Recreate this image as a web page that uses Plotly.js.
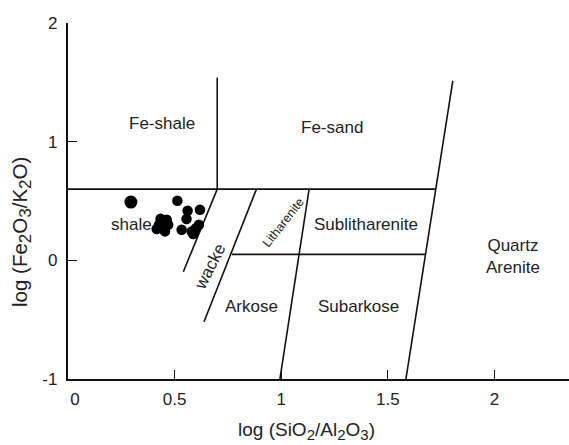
<!DOCTYPE html>
<html>
<head>
<meta charset="utf-8">
<script src="https://cdn.plot.ly/plotly-3.0.1.min.js"></script>
<style>html,body{margin:0;padding:0;background:#fff;}#chart{width:569px;height:445px;}</style>
</head>
<body>
<div id="chart"></div>
<script>
// Sample points: log(SiO2/Al2O3), log(Fe2O3/K2O)
var sampleX = [0.295, 0.513, 0.561, 0.619, 0.556, 0.434, 0.463, 0.427, 0.470, 0.416, 0.455, 0.533, 0.580, 0.614, 0.587, 0.600];
var sampleY = [0.491, 0.502, 0.418, 0.426, 0.348, 0.350, 0.342, 0.300, 0.300, 0.264, 0.244, 0.258, 0.244, 0.300, 0.222, 0.270];
var bigX = [0.295];
var bigY = [0.491];

// Field boundaries (Herron 1988 classification)
var topLineX = [0, 1.725];          var topLineY = [0.6, 0.6];
var feDividerX = [0.70, 0.70];      var feDividerY = [0.6, 1.54];
var quartzLineX = [1.585, 1.805];   var quartzLineY = [-1, 1.513];
var shaleWackeX = [0.70, 0.541];    var shaleWackeY = [0.6, -0.096];
var wackeArkX = [0.884, 0.638];     var wackeArkY = [0.6, -0.517];
var lithSubX = [1.131, 0.994];      var lithSubY = [0.6, -1];
var midLineX = [0.768, 1.677];      var midLineY = [0.05, 0.05];

// Field labels
var labelText = ["Fe-shale", "Fe-sand", "shale", "Sublitharenite", "Arkose", "Subarkose", "Quartz<br>Arenite"];
var labelX = [0.44, 1.238, 0.297, 1.397, 0.863, 1.362, 2.086];
var labelY = [1.157, 1.12, 0.30, 0.306, -0.393, -0.393, 0.032];

var xTicks = [0, 0.5, 1, 1.5, 2];
var xTickText = ["\u00a0\u00a0\u00a00", "0.5", "1", "1.5", "2"];
var yTicks = [-1, 0, 1, 2];
var yTickText = ["-1", "0", "1", "2"];

var lineStyle = {color: "#111", width: 1.6};
var bounds = [
  [topLineX, topLineY], [feDividerX, feDividerY], [quartzLineX, quartzLineY],
  [shaleWackeX, shaleWackeY], [wackeArkX, wackeArkY], [lithSubX, lithSubY], [midLineX, midLineY]
];
var traces = bounds.map(function (b) {
  return {x: b[0], y: b[1], mode: "lines", line: lineStyle, hoverinfo: "skip", showlegend: false, type: "scatter"};
});
traces.push({x: sampleX, y: sampleY, mode: "markers", type: "scatter", showlegend: false,
  marker: {color: "#000", size: 10.5}});
traces.push({x: bigX, y: bigY, mode: "markers", type: "scatter", showlegend: false,
  marker: {color: "#000", size: 13}});

var font = "Liberation Sans, Arial, Helvetica, sans-serif";
var annotations = labelText.map(function (t, i) {
  return {x: labelX[i], y: labelY[i], xref: "x", yref: "y", text: t, showarrow: false,
    font: {family: font, size: 17, color: "#222"}, xanchor: "center", yanchor: "middle"};
});
annotations.push({x: 0.666, y: -0.05, xref: "x", yref: "y", text: "wacke", showarrow: false, textangle: -63,
  font: {family: font, size: 17, color: "#222"}});
annotations.push({x: 1.008, y: 0.318, xref: "x", yref: "y", text: "Litharenite", showarrow: false, textangle: -52,
  font: {family: font, size: 12.5, color: "#222"}});
var s = function (d, px) { return "<sub><span style=\"font-size:" + px + "px\">" + d + "</span></sub>"; };
annotations.push({x: 0.477, y: -0.147, xref: "paper", yref: "paper",
  text: "log (SiO" + s("2", 15) + "/Al" + s("2", 15) + "O" + s("3", 15) + ")",
  showarrow: false, xanchor: "center", yanchor: "middle", font: {family: font, size: 19, color: "#222"}});
annotations.push({x: -0.0918, y: 0.413, xref: "paper", yref: "paper",
  text: "log (Fe" + s("2", 17) + "O" + s("3", 17) + "/K" + s("2", 17) + "O)",
  showarrow: false, textangle: -90, xanchor: "center", yanchor: "middle", font: {family: font, size: 20.5, color: "#222"}});

var layout = {
  width: 569, height: 445,
  margin: {l: 68, r: 0, t: 23, b: 66},
  paper_bgcolor: "#fff", plot_bgcolor: "#fff",
  showlegend: false,
  xaxis: {range: [0, 2.35], showline: true, linecolor: "#111", linewidth: 2.2, ticks: "inside", ticklen: 9,
    tickcolor: "#111", tickwidth: 1.2, tickvals: xTicks, ticktext: xTickText, showgrid: false, zeroline: false,
    ticklabelstandoff: 3,
    tickfont: {family: font, size: 17, color: "#222"}, fixedrange: true},
  yaxis: {range: [-1, 2], showline: true, linecolor: "#111", linewidth: 2.2, ticks: "inside", ticklen: 9,
    tickcolor: "#111", tickwidth: 1.2, tickvals: yTicks, ticktext: yTickText, showgrid: false, zeroline: false,
    ticklabelstandoff: 5,
    tickfont: {family: font, size: 17, color: "#222"}, fixedrange: true},
  annotations: annotations
};
Plotly.newPlot("chart", traces, layout, {staticPlot: true, displayModeBar: false});
</script>
</body>
</html>
